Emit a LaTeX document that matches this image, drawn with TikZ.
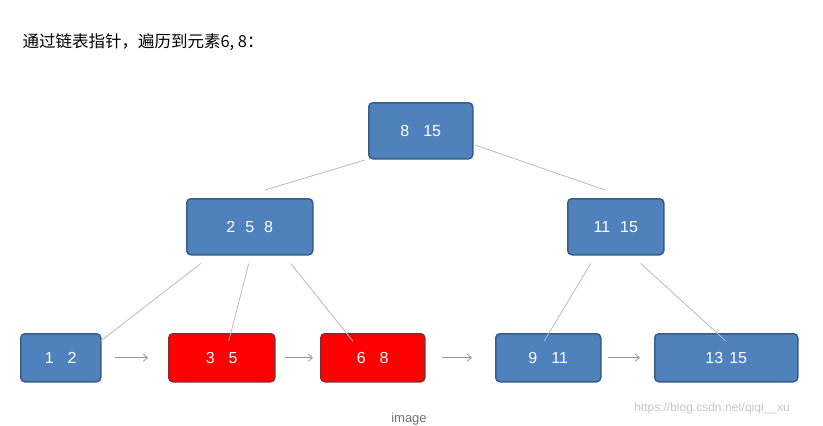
\documentclass[tikz,border=0pt]{standalone}
\usepackage{fontspec}
\setmainfont{Liberation Sans}
\newfontfamily\cjk{Noto Sans CJK SC}
\usetikzlibrary{arrows.meta}
\definecolor{bfill}{HTML}{4F81BD}
\definecolor{bdraw}{HTML}{385D8A}
\definecolor{rfill}{HTML}{FF0000}
\definecolor{rdraw}{HTML}{8B2A2A}
\definecolor{lk}{HTML}{B4BCC4}
\tikzset{
 bn/.style={draw=bdraw,fill=bfill,line width=1.5pt,rounded corners=4pt,text=white,font=\fontsize{16}{18}\selectfont,anchor=north west,inner sep=0pt,align=center},
 rn/.style={bn,fill=rfill,draw=rdraw},
 lnk/.style={draw=lk,line width=0.8pt},
 arr/.style={draw=gray!80,line width=0.8pt,-{Straight Barb[length=4pt,width=7pt]}}
}
\begin{document}
\begin{tikzpicture}[x=1pt,y=-1pt]
\useasboundingbox[fill=white] (0,0) rectangle (823,426);
\node[anchor=west,font=\cjk\fontsize{16.5}{19}\selectfont] (title) at (19,42) {通过链表指针，遍历到元素6, 8：};
\node[bn,minimum width=104pt,minimum height=56pt] (root) at (368,102) {8\hspace{14pt}15};
\node[bn,minimum width=126pt,minimum height=56pt] (l) at (186,198) {2\hspace{10pt}5\hspace{10pt}8};
\node[bn,minimum width=96pt,minimum height=56pt] (r) at (567,198) {11\hspace{10pt}15};
\node[bn,minimum width=80pt,minimum height=48pt] (a) at (20,333) {1\hspace{14pt}2};
\node[rn,minimum width=106pt,minimum height=48pt] (b) at (168,333) {3\hspace{14pt}5};
\node[rn,minimum width=104pt,minimum height=48pt] (c) at (320,333) {6\hspace{14pt}8};
\node[bn,minimum width=105pt,minimum height=48pt] (d) at (495,333) {9\hspace{14pt}11};
\node[bn,minimum width=143pt,minimum height=48pt] (e) at (654,333) {13\hspace{6pt}15};
\coordinate (p1) at (365,160); \coordinate (p2) at (265,190);
\coordinate (p3) at (475,145); \coordinate (p4) at (605,190);
\draw[lnk] (p1) -- (p2);
\draw[lnk] (p3) -- (p4);
\draw[lnk] ([xshift=-49pt,yshift=-8pt]l.south) -- ([xshift=40pt,yshift=-8pt]a.north);
\draw[lnk] ([xshift=-1pt,yshift=-8pt]l.south) -- ([xshift=7pt,yshift=-8pt]b.north);
\draw[lnk] ([xshift=41pt,yshift=-8pt]l.south) -- ([xshift=-20pt,yshift=-8pt]c.north);
\draw[lnk] ([xshift=-25pt,yshift=-8pt]r.south) -- ([xshift=-4pt,yshift=-8pt]d.north);
\draw[lnk] ([xshift=25pt,yshift=-8pt]r.south) -- ([xshift=-0.5pt,yshift=-8pt]e.north);
\draw[arr] ([xshift=13pt]a.east) -- ([xshift=-20pt]b.west);
\draw[arr] ([xshift=9pt]b.east) -- ([xshift=-7pt]c.west);
\draw[arr] ([xshift=16pt]c.east) -- ([xshift=-23pt]d.west);
\draw[arr] ([xshift=6pt]d.east) -- ([xshift=-14pt]e.west);
\node[text=gray!90!black,font=\fontsize{13}{15}\selectfont] (cap) at (409,419) {image};
\node[text=gray!45,font=\fontsize{12}{14}\selectfont] (wm) at (712,408) {https://blog.csdn.net/qiqi\_\_xu};
\end{tikzpicture}
\end{document}
